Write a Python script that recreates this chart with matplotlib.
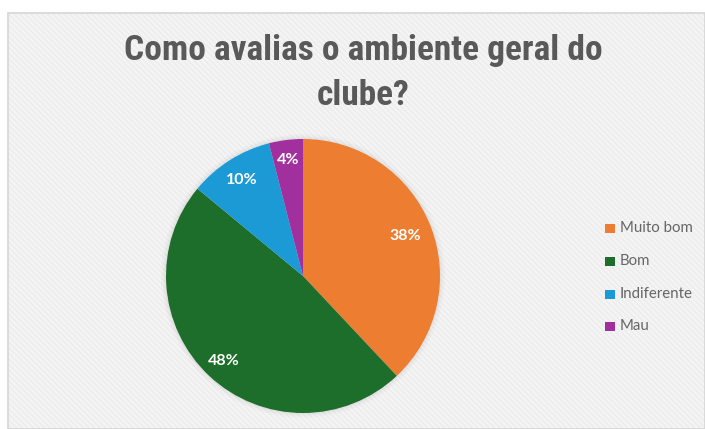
import numpy as np
import matplotlib
matplotlib.use("Agg")
import matplotlib.pyplot as plt
from matplotlib.patches import Rectangle, Circle
from matplotlib import font_manager

categories = ["Muito bom", "Bom", "Indiferente", "Mau"]
values = [38, 48, 10, 4]
colors = ["#ED7D31", "#1D6E2B", "#1B9AD6", "#A12F9D"]
title = "Como avalias o ambiente geral do\nclube?"

W, H = 705, 429
fig = plt.figure(figsize=(W / 100, H / 100), dpi=100)
fig.patch.set_facecolor("white")

installed = {f.name for f in font_manager.fontManager.ttflist}
def pick(*names):
    return [n for n in names if n in installed] + ["DejaVu Sans"]

# chart area with light diagonal texture
bg = Rectangle((8 / W, 0), 1 - 8 / W, 1 - 13 / H, transform=fig.transFigure,
               facecolor="#f4f4f4", edgecolor="#ececec", hatch="\\\\\\\\\\\\",
               linewidth=0, zorder=-3)
fig.patches.append(bg)
border = Rectangle((8 / W, 0), 1 - 8 / W, 1 - 13 / H, transform=fig.transFigure,
                   facecolor="none", edgecolor="#d6d6d6", linewidth=1.2, zorder=-2)
fig.patches.append(border)

fig.text(363 / W, 1 - 73 / H, title, ha="center", va="center",
         fontsize=25.5, fontweight="bold", color="#595959",
         family=pick("Liberation Sans Narrow", "Roboto Condensed", "Roboto"),
         linespacing=1.45)

cx, cy, r = 303, 276, 137
ax = fig.add_axes([(cx - r) / W, (H - cy - r) / H, 2 * r / W, 2 * r / H])
ax.set_zorder(2)

# soft shadow around the pie
for rad, a in [(1.035, 0.04), (1.02, 0.05), (1.008, 0.06)]:
    ax.add_patch(Circle((0, 0.0), rad, facecolor="#808080", alpha=a,
                        edgecolor="none", clip_on=False, zorder=0))

wedges, _ = ax.pie(values, colors=colors, startangle=90, counterclock=False,
                   wedgeprops=dict(linewidth=0, edgecolor="none", zorder=1))
ax.set_xlim(-1, 1)
ax.set_ylim(-1, 1)
ax.set_aspect("auto")
ax.axis("off")

label_r = [0.80, 0.85, 0.83, 0.85]
total = sum(values)
start = 90.0
for v, lr in zip(values, label_r):
    span = 360.0 * v / total
    mid = np.deg2rad(start - span / 2)
    ax.text(lr * np.cos(mid), lr * np.sin(mid), f"{v}%", ha="center", va="center",
            color="white", fontsize=11.5, fontweight="bold",
            family=pick("Lato", "Open Sans"), zorder=3)
    start -= span

# legend
ly = [228, 261, 294, 326]
for lab, col, y in zip(categories, colors, ly):
    fig.patches.append(Rectangle((605 / W, 1 - (y + 5) / H), 9.5 / W, 9.5 / H,
                                 transform=fig.transFigure, facecolor=col,
                                 edgecolor="none", zorder=3))
    fig.text(620 / W, 1 - y / H, lab, ha="left", va="center", fontsize=10.8,
             color="#666666", family=pick("Lato", "Open Sans"))

fig.savefig("out.png", dpi=100, facecolor=fig.get_facecolor())
